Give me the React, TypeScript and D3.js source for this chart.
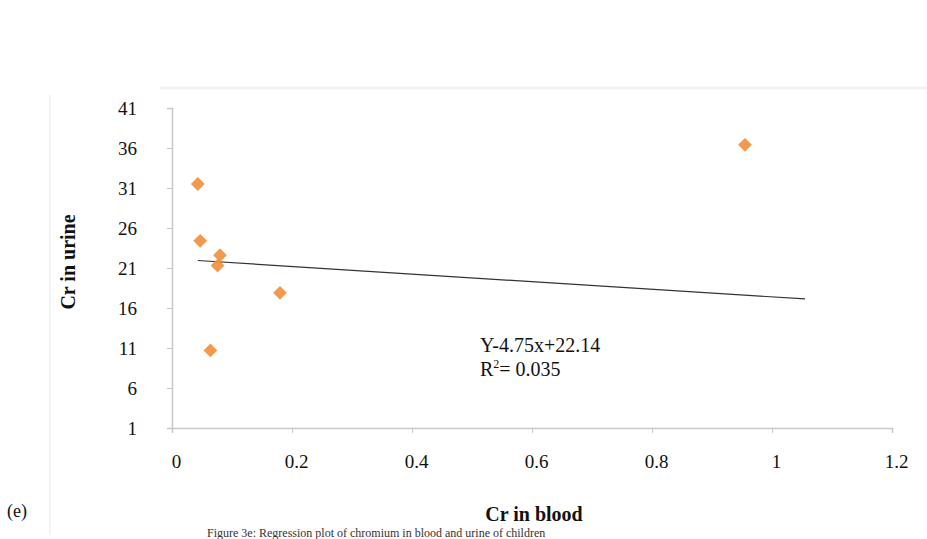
import React, { useEffect, useRef } from 'react';
import * as d3 from 'd3';

// Cr in blood (x) vs Cr in urine (y)
const crBlood = [0.043, 0.047, 0.08, 0.076, 0.18, 0.064, 0.955];
const crUrine = [31.5, 24.4, 22.6, 21.3, 17.9, 10.7, 36.4];
const xTicks = [0, 0.2, 0.4, 0.6, 0.8, 1, 1.2];
const yTicks = [1, 6, 11, 16, 21, 26, 31, 36, 41];
const slope = -4.75;
const intercept = 22.14;
const forecast = 0.1;

export default function App() {
  const ref = useRef<SVGSVGElement>(null);

  useEffect(() => {
    const svg = d3.select(ref.current);
    svg.selectAll('*').remove();
    const font = '"Liberation Serif", "Times New Roman", serif';

    const x = d3.scaleLinear().domain([0, 1.2]).range([172, 892]);
    const y = d3.scaleLinear().domain([1, 41]).range([428, 108]);

    // faint chart frame
    svg.append('line').attr('x1', 160).attr('x2', 927).attr('y1', 88).attr('y2', 88)
      .attr('stroke', '#f2f2f2').attr('stroke-width', 3);
    svg.append('line').attr('x1', 50).attr('x2', 50).attr('y1', 95).attr('y2', 535)
      .attr('stroke', '#f4f4f4').attr('stroke-width', 2);

    const yAxis = svg.append('g').attr('transform', `translate(${x(0)},0)`)
      .call(d3.axisLeft(y).tickValues(yTicks).tickSize(5).tickPadding(30).tickFormat(d3.format('d')));
    const xAxis = svg.append('g').attr('transform', `translate(0,${y(1)})`)
      .call(d3.axisBottom(x).tickValues(xTicks).tickSize(5).tickPadding(22).tickFormat(d => String(d)));
    [xAxis, yAxis].forEach(g => {
      g.select('.domain').attr('stroke', '#c8c8c8').attr('stroke-width', 1.5);
      g.selectAll('.tick line').attr('stroke', '#c8c8c8');
      g.selectAll('text').attr('fill', '#111').style('font-family', font).style('font-size', '19px');
    });
    xAxis.selectAll('.tick text').attr('dx', 4);

    // trendline
    const x0 = d3.min(crBlood) as number;
    const x1 = (d3.max(crBlood) as number) + forecast;
    svg.append('line')
      .attr('x1', x(x0)).attr('y1', y(slope * x0 + intercept))
      .attr('x2', x(x1)).attr('y2', y(slope * x1 + intercept))
      .attr('stroke', '#333').attr('stroke-width', 1.2);

    const diamond = d3.symbol().type(d3.symbolSquare).size(95);
    svg.selectAll('.pt').data(crBlood).join('path')
      .attr('class', 'pt')
      .attr('d', diamond)
      .attr('transform', (d, i) => `translate(${x(d)},${y(crUrine[i])}) rotate(45)`)
      .attr('fill', '#f0913f')
      .attr('opacity', 0.92);

    const eq = svg.append('text').attr('x', 480).attr('y', 352)
      .style('font-family', font).style('font-size', '20px').attr('fill', '#111');
    eq.text('Y-4.75x+22.14');
    const r2 = svg.append('text').attr('x', 480).attr('y', 376)
      .style('font-family', font).style('font-size', '20px').attr('fill', '#111');
    r2.append('tspan').text('R');
    r2.append('tspan').attr('dy', -8).style('font-size', '12px').text('2');
    r2.append('tspan').attr('dy', 8).text('= 0.035');

    svg.append('text').attr('transform', 'translate(75,262) rotate(-90)')
      .attr('text-anchor', 'middle').style('font-family', font).style('font-size', '20px')
      .style('font-weight', 'bold').attr('fill', '#111').text('Cr in urine');
    svg.append('text').attr('x', 534).attr('y', 521)
      .attr('text-anchor', 'middle').style('font-family', font).style('font-size', '20px')
      .style('font-weight', 'bold').attr('fill', '#111').text('Cr in blood');
    svg.append('text').attr('x', 7).attr('y', 517)
      .style('font-family', font).style('font-size', '18px').attr('fill', '#111').text('(e)');
    svg.append('text').attr('x', 207).attr('y', 537)
      .style('font-family', font).style('font-size', '12px').attr('fill', '#333')
      .text('Figure 3e: Regression plot of chromium in blood and urine of children');
  }, []);

  return (
    <svg ref={ref} width={927} height={539}
      style={{ position: 'absolute', left: 0, top: 0, background: '#fff' }} />
  );
}
